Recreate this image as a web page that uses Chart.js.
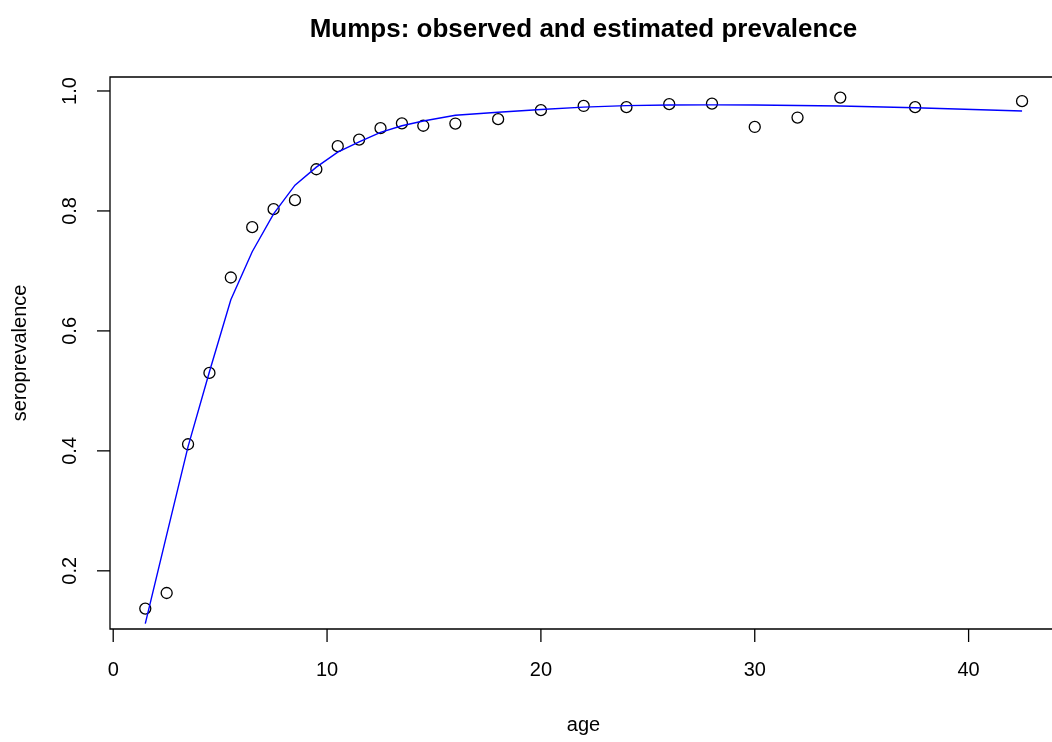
<!DOCTYPE html>
<html>
<head>
<meta charset="utf-8">
<script src="https://cdn.jsdelivr.net/npm/chart.js@4/dist/chart.umd.min.js"></script>
<style>
  html, body { margin: 0; padding: 0; background: #fff; }
  #wrap { width: 1052px; height: 742px; }
</style>
</head>
<body>
<div id="wrap"><canvas id="chart" width="1052" height="742"></canvas></div>
<script>
// ages of the groups, observed and fitted seroprevalence
const ages = [1.5, 2.5, 3.5, 4.5, 5.5, 6.5, 7.5, 8.5, 9.5, 10.5, 11.5, 12.5, 13.5, 14.5,
              16, 18, 20, 22, 24, 26, 28, 30, 32, 34, 37.5, 42.5]
const observed = [0.137, 0.163, 0.411, 0.530, 0.689, 0.773, 0.803, 0.818, 0.8695, 0.908,
                  0.919, 0.938, 0.946, 0.942, 0.9457, 0.953, 0.968, 0.975, 0.973, 0.978,
                  0.979, 0.940, 0.9557, 0.989, 0.973, 0.983]
const fitted = [0.112, 0.26, 0.407, 0.532, 0.652, 0.732, 0.795, 0.843, 0.873, 0.898,
                0.915, 0.931, 0.942, 0.950, 0.9595, 0.9645, 0.969, 0.973, 0.9755, 0.9765,
                0.9768, 0.9765, 0.9757, 0.975, 0.972, 0.9667]
const xTicks = [0, 10, 20, 30, 40]
const yTicks = [0.2, 0.4, 0.6, 0.8, 1.0]
const yTickLabels = ['0.2', '0.4', '0.6', '0.8', '1.0']

const FONT = '"Liberation Sans", Arial, Helvetica, sans-serif'

// R style box, axes, labels and title
const rAxes = {
    id: 'rAxes',
    afterDraw(chart) {
        const ctx = chart.ctx
        const a = chart.chartArea
        const xs = chart.scales.x
        const ys = chart.scales.y
        ctx.save()
        ctx.strokeStyle = '#000'
        ctx.lineWidth = 1.3
        ctx.beginPath()
        ctx.moveTo(a.right + 2, a.top)
        ctx.lineTo(a.left, a.top)
        ctx.lineTo(a.left, a.bottom)
        ctx.lineTo(a.right + 2, a.bottom)
        ctx.stroke()

        ctx.fillStyle = '#000'
        ctx.font = '20px ' + FONT
        // x axis
        ctx.textAlign = 'center'
        ctx.textBaseline = 'middle'
        xTicks.forEach(v => {
            const px = xs.getPixelForValue(v)
            ctx.beginPath()
            ctx.moveTo(px, a.bottom)
            ctx.lineTo(px, a.bottom + 13)
            ctx.stroke()
            ctx.fillText(String(v), px, a.bottom + 41)
        })
        // y axis
        yTicks.forEach((v, i) => {
            const py = ys.getPixelForValue(v)
            ctx.beginPath()
            ctx.moveTo(a.left, py)
            ctx.lineTo(a.left - 13, py)
            ctx.stroke()
            ctx.save()
            ctx.translate(a.left - 40, py)
            ctx.rotate(-Math.PI / 2)
            ctx.fillText(yTickLabels[i], 0, 0)
            ctx.restore()
        })
        // axis titles
        const midX = (a.left + 1057) / 2
        ctx.fillText('age', midX, a.bottom + 96)
        ctx.save()
        ctx.translate(20, (a.top + a.bottom) / 2)
        ctx.rotate(-Math.PI / 2)
        ctx.fillText('seroprevalence', 0, 0)
        ctx.restore()
        // main title
        ctx.font = 'bold 26px ' + FONT
        ctx.fillText('Mumps: observed and estimated prevalence', midX, 30)
        ctx.restore()
    }
}

chartIt()
function chartIt() {
    const ctx = document.getElementById('chart').getContext('2d')
    const myChart = new Chart(ctx, {
        type: 'scatter',
        data: {
            datasets: [{
                type: 'line',
                label: 'fitted',
                data: ages.map((a, i) => ({x: a, y: fitted[i]})),
                borderColor: '#0000ff',
                borderWidth: 1.4,
                pointRadius: 0,
                tension: 0,
                fill: false
            }, {
                label: 'observed',
                data: ages.map((a, i) => ({x: a, y: observed[i]})),
                pointStyle: 'circle',
                pointRadius: 5.5,
                pointBorderWidth: 1.3,
                borderColor: '#000',
                backgroundColor: 'rgba(0,0,0,0)'
            }]
        },
        options: {
            responsive: false,
            devicePixelRatio: 1,
            animation: false,
            layout: { autoPadding: false, padding: { left: 0, right: 0, top: 77, bottom: 0 } },
            plugins: {
                legend: { display: false },
                tooltip: { enabled: false },
                title: { display: false }
            },
            scales: {
                x: {
                    type: 'linear',
                    min: -0.15,
                    max: 43.9,
                    grid: { display: false },
                    border: { display: false },
                    ticks: { display: false },
                    afterFit: s => { s.height = 742 - 629 }
                },
                y: {
                    type: 'linear',
                    min: 0.103,
                    max: 1.0233,
                    grid: { display: false },
                    border: { display: false },
                    ticks: { display: false },
                    afterFit: s => { s.width = 110 }
                }
            }
        },
        plugins: [rAxes]
    })
}
</script>
</body>
</html>
